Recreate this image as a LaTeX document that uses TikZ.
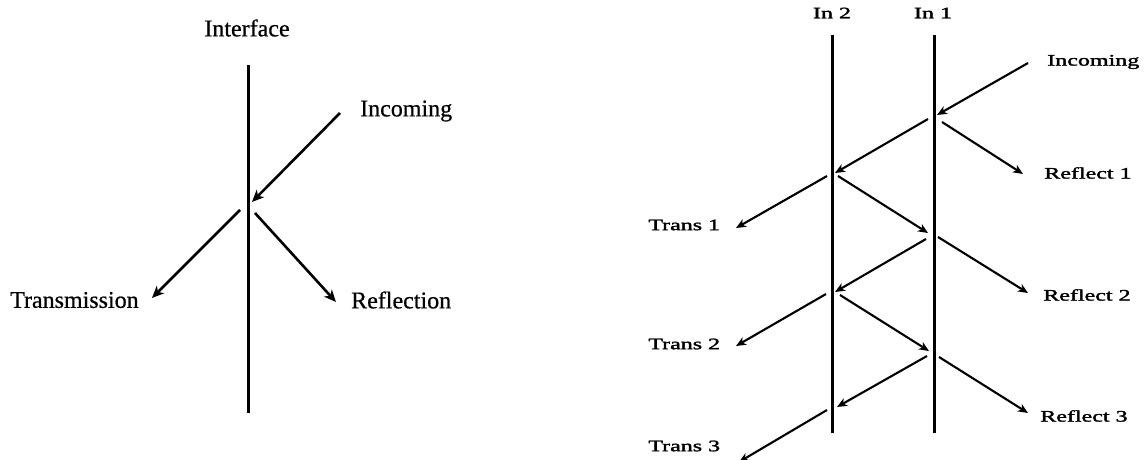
\documentclass[tikz,border=0pt]{standalone}
\usepackage{fontspec}
\setmainfont{Liberation Serif}
\newfontfamily\boldishfont[FakeBold=1.6]{Liberation Serif}
\newfontfamily\semiboldfont[FakeBold=0.6]{Liberation Serif}
\usetikzlibrary{arrows.meta}
\begin{document}
\begin{tikzpicture}[x=1pt,y=-1pt,
  wall/.style={line width=3pt},
  ray/.style={line width=2.6pt,-{Stealth[length=12pt,width=10.5pt,inset=3.5pt]}},
  rayb/.style={line width=2.1pt,-{Stealth[length=10pt,width=8.5pt,inset=3pt]}},
  biglbl/.style={font=\semiboldfont\fontsize{24}{28}\selectfont,inner sep=0pt},
  smalllbl/.style={font=\boldishfont\fontsize{16}{19}\selectfont,inner sep=0pt,xscale=1.5}]
\useasboundingbox (0,0) rectangle (1144,460);
% ---------- left diagram ----------
\coordinate (ifT) at (248,65);
\coordinate (ifB) at (248,413);
\draw[wall] (ifT) -- (ifB);
\node[biglbl] (interface) at (247,28) {Interface};
\node[biglbl,anchor=west] (incoming) at (360,111) {Incoming};
\node[biglbl,anchor=west] (transmission) at (10,300) {Transmission};
\node[biglbl,anchor=west] (reflection) at (351,300) {Reflection};
\coordinate (iA) at (340,113);
\coordinate (iB) at (252,202);
\coordinate (tA) at (240,210);
\coordinate (tB) at (152,298);
\coordinate (rA) at (255,213);
\coordinate (rB) at (336,302);
\draw[ray] (iA) -- (iB);
\draw[ray] (tA) -- (tB);
\draw[ray] (rA) -- (rB);
% ---------- right diagram ----------
\coordinate (w2T) at (832,35);
\coordinate (w2B) at (832,433);
\coordinate (w1T) at (934,35);
\coordinate (w1B) at (934,433);
\draw[wall] (w2T) -- (w2B);
\draw[wall] (w1T) -- (w1B);
\node[smalllbl] (in2) at (832,13) {In 2};
\node[smalllbl] (in1) at (933,13) {In 1};
\node[smalllbl,anchor=west] (inc) at (1047,62) {Incoming};
\node[smalllbl,anchor=west] (ref1) at (1044,173) {Reflect 1};
\node[smalllbl,anchor=west] (ref2) at (1043,295) {Reflect 2};
\node[smalllbl,anchor=west] (ref3) at (1040,416) {Reflect 3};
\node[smalllbl,anchor=west] (tr1) at (648,225) {Trans 1};
\node[smalllbl,anchor=west] (tr2) at (648,344) {Trans 2};
\node[smalllbl,anchor=west] (tr3) at (648,446) {Trans 3};
% arrows
\coordinate (a0) at (1028,63);  \coordinate (b0) at (937,115);
\coordinate (a1) at (928,119);  \coordinate (b1) at (835,173);
\coordinate (a2) at (942,122);  \coordinate (b2) at (1023,174);
\coordinate (a3) at (827,176);  \coordinate (b3) at (736,228);
\coordinate (a4) at (838,176);  \coordinate (b4) at (928,233);
\coordinate (a5) at (926,239);  \coordinate (b5) at (835,292);
\coordinate (a6) at (938,237);  \coordinate (b6) at (1028,293);
\coordinate (a7) at (826,294);  \coordinate (b7) at (736,346);
\coordinate (a8) at (840,295);  \coordinate (b8) at (929,351);
\coordinate (a9) at (927,356);  \coordinate (b9) at (837,407);
\coordinate (a10) at (939,357); \coordinate (b10) at (1028,413);
\coordinate (a11) at (827,410); \coordinate (b11) at (739,462);
\foreach \i in {0,...,11} {\draw[rayb] (a\i) -- (b\i);}
\end{tikzpicture}
\end{document}
